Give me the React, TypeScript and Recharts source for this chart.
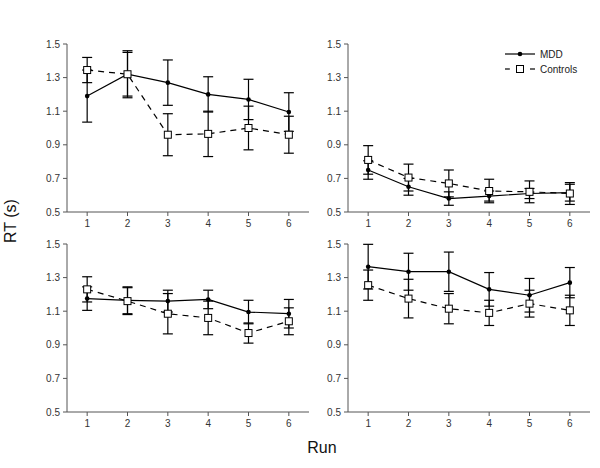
import { LineChart, Line, XAxis, YAxis, ErrorBar } from "recharts";

const runs = [1, 2, 3, 4, 5, 6];
const yTicks = [0.5, 0.7, 0.9, 1.1, 1.3, 1.5];

// top-left
const mddA = [1.19, 1.32, 1.27, 1.2, 1.17, 1.095];
const mddAErr = [0.155, 0.14, 0.135, 0.105, 0.12, 0.115];
const ctrlA = [1.345, 1.32, 0.96, 0.965, 1.0, 0.96];
const ctrlAErr = [0.075, 0.13, 0.125, 0.135, 0.13, 0.11];

// top-right
const mddB = [0.75, 0.65, 0.58, 0.595, 0.61, 0.615];
const mddBErr = [0.055, 0.05, 0.04, 0.03, 0.03, 0.05];
const ctrlB = [0.81, 0.705, 0.67, 0.625, 0.62, 0.61];
const ctrlBErr = [0.085, 0.08, 0.08, 0.07, 0.065, 0.065];

// bottom-left
const mddC = [1.175, 1.165, 1.16, 1.17, 1.095, 1.085];
const mddCErr = [0.07, 0.08, 0.065, 0.055, 0.07, 0.085];
const ctrlC = [1.23, 1.16, 1.085, 1.06, 0.97, 1.04];
const ctrlCErr = [0.075, 0.08, 0.12, 0.1, 0.06, 0.08];

// bottom-right
const mddD = [1.365, 1.335, 1.335, 1.23, 1.195, 1.27];
const mddDErr = [0.133, 0.11, 0.117, 0.1, 0.1, 0.09];
const ctrlD = [1.255, 1.175, 1.115, 1.09, 1.145, 1.105];
const ctrlDErr = [0.09, 0.115, 0.09, 0.075, 0.08, 0.09];

const build = (mdd: number[], mddErr: number[], ctrl: number[], ctrlErr: number[]) =>
  runs.map((run, i) => ({ run, mdd: mdd[i], mddErr: mddErr[i], ctrl: ctrl[i], ctrlErr: ctrlErr[i] }));

const FONT = "'Liberation Sans', Arial, sans-serif";
const AXIS = "#555";

const Square = (props: any) => {
  const { cx, cy, index } = props;
  if (cx == null || cy == null) return null;
  return <rect key={`sq-${index}`} x={cx - 3.5} y={cy - 3.5} width={7} height={7} fill="#fff" stroke="#000" strokeWidth={1} />;
};

interface PanelProps {
  data: ReturnType<typeof build>;
  left: number;
  top: number;
  width: number;
  marginLeft: number;
  marginRight: number;
}

const Panel = ({ data, left, top, width, marginLeft, marginRight }: PanelProps) => (
  <div style={{ position: "absolute", left, top }}>
    <LineChart width={width} height={234} data={data} margin={{ top: 44, right: marginRight, bottom: 4, left: marginLeft }}>
      <XAxis
        type="number"
        dataKey="run"
        domain={[0.5, 6.5]}
        ticks={runs}
        tickSize={4}
        height={18}
        stroke={AXIS}
        tick={{ fontSize: 10, fill: "#333", fontFamily: FONT }}
        tickMargin={4}
      />
      <YAxis
        domain={[0.5, 1.5]}
        ticks={yTicks}
        width={40}
        tickSize={4}
        tickMargin={3}
        stroke={AXIS}
        tickFormatter={(v: number) => v.toFixed(1)}
        tick={{ fontSize: 10, fill: "#333", fontFamily: FONT }}
      />
      <Line
        dataKey="mdd"
        stroke="#000"
        strokeWidth={1.2}
        dot={{ r: 2.3, fill: "#000", stroke: "#000", strokeWidth: 0 }}
        isAnimationActive={false}
      >
        <ErrorBar dataKey="mddErr" width={5} stroke="#000" strokeWidth={1.2} direction="y" />
      </Line>
      <Line
        dataKey="ctrl"
        stroke="#000"
        strokeWidth={1.2}
        strokeDasharray="6 5"
        dot={Square}
        isAnimationActive={false}
      >
        <ErrorBar dataKey="ctrlErr" width={5} stroke="#000" strokeWidth={1.2} direction="y" />
      </Line>
    </LineChart>
  </div>
);

const App = () => (
  <div style={{ position: "absolute", left: 0, top: 0, width: 600, height: 468, background: "#fff", fontFamily: FONT }}>
    <Panel data={build(mddA, mddAErr, ctrlA, ctrlAErr)} left={0} top={0} width={312} marginLeft={27} marginRight={3} />
    <Panel data={build(mddB, mddBErr, ctrlB, ctrlBErr)} left={300} top={0} width={300} marginLeft={8} marginRight={10} />
    <Panel data={build(mddC, mddCErr, ctrlC, ctrlCErr)} left={0} top={200} width={312} marginLeft={27} marginRight={3} />
    <Panel data={build(mddD, mddDErr, ctrlD, ctrlDErr)} left={300} top={200} width={300} marginLeft={8} marginRight={10} />
    <svg width={600} height={468} style={{ position: "absolute", left: 0, top: 0, pointerEvents: "none" }}>
      <g fontFamily={FONT}>
        <line x1={505} y1={54} x2={535} y2={54} stroke="#000" strokeWidth={1.2} />
        <circle cx={520} cy={54} r={2.3} fill="#000" />
        <text x={540} y={57.5} fontSize={10} fill="#222">MDD</text>
        <line x1={505} y1={69} x2={510} y2={69} stroke="#000" strokeWidth={1.2} />
        <rect x={516.5} y={65.5} width={7} height={7} fill="#fff" stroke="#000" />
        <line x1={530} y1={69} x2={535} y2={69} stroke="#000" strokeWidth={1.2} />
        <text x={540} y={72.5} fontSize={10} fill="#222">Controls</text>
      </g>
      <text x={16} y={221} transform="rotate(-90 16 221)" textAnchor="middle" fontSize={16} fill="#111" fontFamily={FONT}>
        RT (s)
      </text>
      <text x={322} y={453} textAnchor="middle" fontSize={16} fill="#111" fontFamily={FONT}>
        Run
      </text>
    </svg>
  </div>
);

export default App;
